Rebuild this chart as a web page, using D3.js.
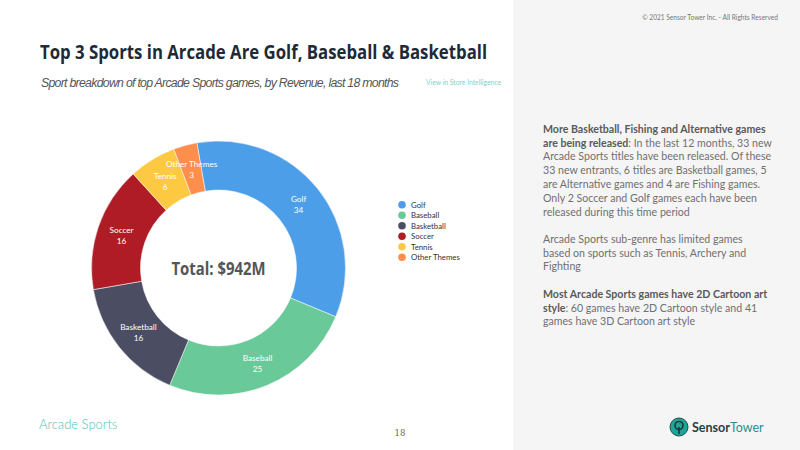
<!DOCTYPE html>
<html><head><meta charset="utf-8">
<script src="https://cdn.jsdelivr.net/npm/d3@7"></script>
<style>body{margin:0;background:#fff}svg{display:block}</style>
</head><body>
<svg id="c" width="800" height="450"></svg>
<script>
const categories = ["Golf","Baseball","Basketball","Soccer","Tennis","Other Themes"];
const values = [34,25,16,16,6,3];
const colors = ["#4c9ee8","#69c999","#4b4d63","#b01c26","#fdc943","#fd8e4b"];
const totalLabel = "Total: $942M";

const svg = d3.select("#c");
const SANS = "'Open Sans', 'Noto Sans', sans-serif";
const LATO = "Lato, 'Noto Sans', sans-serif";

// right panel
svg.append("rect").attr("x",513).attr("y",0).attr("width",287).attr("height",450).attr("fill","#f5f5f5");
svg.append("text").attr("x",778).attr("y",20).attr("text-anchor","end").attr("font-family",LATO)
  .attr("font-size",6.6).attr("fill","#777").text("© 2021 Sensor Tower Inc. - All Rights Reserved");

// title
svg.append("text").attr("x",40).attr("y",59).attr("font-family",SANS).attr("font-weight",700)
  .attr("font-size",19).attr("fill","#1e2a35").attr("textLength",447).attr("lengthAdjust","spacingAndGlyphs")
  .text("Top 3 Sports in Arcade Are Golf, Baseball & Basketball");
svg.append("text").attr("x",41).attr("y",87).attr("font-family","'Liberation Sans', Arial, sans-serif")
  .attr("font-style","italic").attr("font-size",12.3).attr("fill","#555").attr("textLength",358)
  .text("Sport breakdown of top Arcade Sports games, by Revenue, last 18 months");
svg.append("text").attr("x",426).attr("y",85).attr("font-family",LATO).attr("font-size",6.8)
  .attr("fill","#7fd3cb").attr("textLength",75).text("View in Store Intelligence");

// donut
const cx = 218.5, cy = 268, rOut = 127, rIn = 78;
const start = -9.8 * Math.PI/180;
const data = categories.map((c,i)=>({name:c,value:values[i],color:colors[i]}));
const pie = d3.pie().value(d=>d.value).sort(null).startAngle(start).endAngle(start+2*Math.PI);
const arc = d3.arc().innerRadius(rIn).outerRadius(rOut);
const g = svg.append("g").attr("transform",`translate(${cx},${cy})`);
const arcs = pie(data);
g.selectAll("path").data(arcs).join("path").attr("d",arc).attr("fill",d=>d.data.color)
  .attr("stroke","#fff").attr("stroke-width",0.5);
const lab = g.selectAll("g.lab").data(arcs).join("g").attr("class","lab")
  .attr("transform",d=>`translate(${arc.centroid(d)})`);
lab.append("text").attr("text-anchor","middle").attr("y",-2).attr("font-family",LATO)
  .attr("font-size",8.2).attr("fill","#fff").text(d=>d.data.name);
lab.append("text").attr("text-anchor","middle").attr("y",9).attr("font-family",LATO)
  .attr("font-size",8.2).attr("fill","#fff").text(d=>d.data.value);
svg.append("text").attr("x",cx).attr("y",cy+6.5).attr("text-anchor","middle").attr("font-family",SANS)
  .attr("font-weight",700).attr("font-size",18).attr("fill","#555").attr("textLength",94)
  .attr("lengthAdjust","spacingAndGlyphs").text(totalLabel);

// legend
const lg = svg.append("g").attr("transform","translate(402,204.7)");
const li = lg.selectAll("g").data(data).join("g").attr("transform",(d,i)=>`translate(0,${i*10.5})`);
li.append("circle").attr("r",3.8).attr("fill",d=>d.color);
li.append("text").attr("x",9).attr("y",3).attr("font-family",LATO).attr("font-size",7.8)
  .attr("fill","#333").text(d=>d.name);

// body text
const paras = [
  {y:129, lines:[[["b","More Basketball, Fishing and Alternative games"]],
    [["b","are being released"],["n",": In the last 12 months, 33 new"]],
    [["n","Arcade Sports titles have been released. Of these"]],
    [["n","33 new entrants, 6 titles are Basketball games, 5"]],
    [["n","are Alternative games and 4 are Fishing games."]],
    [["n","Only 2 Soccer and Golf games each have been"]],
    [["n","released during this time period"]]]},
  {y:239, lines:[[["n","Arcade Sports sub-genre has limited games"]],
    [["n","based on sports such as Tennis, Archery and"]],
    [["n","Fighting"]]]},
  {y:294, lines:[[["b","Most Arcade Sports games have 2D Cartoon art"]],
    [["b","style"],["n",": 60 games have 2D Cartoon style and 41"]],
    [["n","games have 3D Cartoon art style"]]]}
];
paras.forEach(p=>{
  p.lines.forEach((ln,i)=>{
    const t = svg.append("text").attr("x",543).attr("y",p.y+3.8+i*13.8).attr("font-family",LATO)
      .attr("font-size",10.6).attr("fill","#707070");
    ln.forEach(([k,s])=>t.append("tspan").attr("font-weight",k==="b"?700:400)
      .attr("fill",k==="b"?"#5a5a5a":"#707070").text(s));
  });
});

// footer
svg.append("text").attr("x",39).attr("y",429).attr("font-family",LATO).attr("font-weight",300)
  .attr("font-size",13).attr("fill","#4cc4b4").text("Arcade Sports");
svg.append("text").attr("x",400).attr("y",436).attr("text-anchor","middle").attr("font-family","'DejaVu Serif', serif")
  .attr("font-size",8.5).attr("fill","#666").text("18");

// logo
const lo = svg.append("g").attr("transform","translate(679,427)");
lo.append("circle").attr("r",9).attr("fill","#1fa597").attr("stroke","#1d4f4c").attr("stroke-width",1);
lo.append("circle").attr("cy",-1.5).attr("r",4).attr("fill","none").attr("stroke","#163a38").attr("stroke-width",1.6);
lo.append("line").attr("x1",0).attr("x2",0).attr("y1",0).attr("y2",7).attr("stroke","#163a38").attr("stroke-width",1.6);
const lt = svg.append("text").attr("x",692).attr("y",431.5).attr("font-family",LATO).attr("font-size",12.5);
lt.append("tspan").attr("font-weight",700).attr("fill","#27403f").text("Sensor");
lt.append("tspan").attr("font-weight",400).attr("fill","#2c8f86").text("Tower");
</script>
</body></html>
